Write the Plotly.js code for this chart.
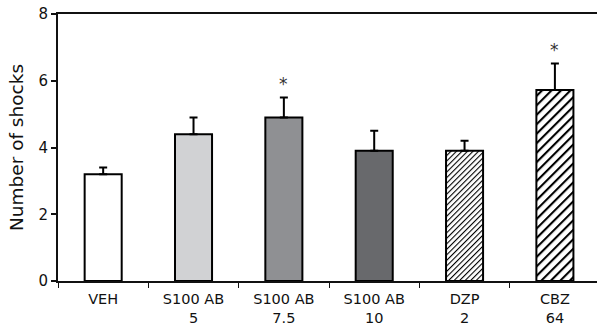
<!DOCTYPE html>
<html><head><meta charset="utf-8">
<script src="https://cdn.plot.ly/plotly-3.0.1.min.js"></script>
<style>html,body{margin:0;padding:0;background:#fff;overflow:hidden}</style>
</head><body><div id="chart" style="width:597px;height:328px"></div>
<script>
const categories = ["VEH", "S100 AB<br>5", "S100 AB<br>7.5", "S100 AB<br>10", "DZP<br>2", "CBZ<br>64"];
const values = [3.2, 4.4, 4.9, 3.9, 3.9, 5.72];
const errors = [0.2, 0.5, 0.6, 0.6, 0.3, 0.8];
const significant = [false, false, true, false, false, true];
const yTicks = [0, 2, 4, 6, 8];

const fills = ["#ffffff", "#d1d2d4", "#8f9093", "#68696c", "#ffffff", "#ffffff"];
// hatch style: spacing between diagonals and line thickness (px, perpendicular)
const hatch = [null, null, null, null, {spacing: 3.9, thick: 1.1}, {spacing: 6.7, thick: 2.1}];

const FONT = "DejaVu Sans, sans-serif";

function barTrace(idx) {
  return {
    type: "bar",
    x: idx.map(i => categories[i]),
    y: idx.map(i => values[i]),
    width: 0.41,
    marker: {color: idx.map(i => fills[i]), line: {color: "#000", width: 2}},
    error_y: {type: "data", symmetric: false, array: idx.map(i => errors[i]),
              arrayminus: idx.map(() => 0), color: "#000", thickness: 2, width: 4}
  };
}

const all = categories.map((c, i) => i);
const hatchedIdx = all.filter(i => hatch[i]);
const traces = [barTrace(all.filter(i => !hatch[i])), ...hatchedIdx.map(i => barTrace([i]))];

const annotations = all.filter(i => significant[i]).map(i => ({
  x: categories[i], y: values[i] + errors[i], text: "*", showarrow: false, yanchor: "bottom", yshift: 1,
  font: {family: FONT, size: 17, color: "#333"}
}));

const layout = {
  width: 597, height: 328,
  margin: {l: 58, r: 0, t: 14, b: 47},
  paper_bgcolor: "#fff", plot_bgcolor: "#fff",
  showlegend: false, barmode: "overlay",
  font: {family: FONT, color: "#111"},
  xaxis: {
    type: "category", categoryorder: "array", categoryarray: categories,
    range: [-0.5, 5.466], showgrid: false, zeroline: false,
    showline: true, linecolor: "#111", linewidth: 2, mirror: true,
    ticks: "outside", ticklen: 5, tickwidth: 1, tickcolor: "#111",
    tickson: "boundaries", tickfont: {size: 14.5}, ticklabelstandoff: 4,
    fixedrange: true
  },
  yaxis: {
    range: [0, 8], showgrid: false, zeroline: false,
    showline: true, linecolor: "#111", linewidth: 2,
    ticks: "outside", ticklen: 5, tickwidth: 2, tickcolor: "#111",
    tickvals: yTicks, tickfont: {size: 15},
    title: {text: "Number of shocks", font: {size: 18.5}, standoff: 10},
    fixedrange: true
  },
  annotations: annotations
};

function applyHatching() {
  const NS = "http://www.w3.org/2000/svg";
  const svg = document.querySelector("#chart svg.main-svg");
  let defs = svg.querySelector("defs");
  if (!defs) { defs = document.createElementNS(NS, "defs"); svg.insertBefore(defs, svg.firstChild); }
  const groups = document.querySelectorAll("#chart .barlayer .trace");
  hatchedIdx.forEach((ci, k) => {
    const h = hatch[ci];
    const id = "hatch" + ci;
    const p = document.createElementNS(NS, "pattern");
    p.setAttribute("id", id);
    p.setAttribute("patternUnits", "userSpaceOnUse");
    p.setAttribute("width", h.spacing);
    p.setAttribute("height", 20);
    p.setAttribute("patternTransform", "rotate(45)");
    const bg = document.createElementNS(NS, "rect");
    bg.setAttribute("width", h.spacing); bg.setAttribute("height", 20); bg.setAttribute("fill", "#fff");
    const ln = document.createElementNS(NS, "rect");
    ln.setAttribute("width", h.thick); ln.setAttribute("height", 20); ln.setAttribute("fill", "#000");
    p.appendChild(bg); p.appendChild(ln);
    defs.appendChild(p);
    const g = groups[k + 1];
    if (g) g.querySelectorAll(".point path").forEach(el => { el.style.fill = "url(#" + id + ")"; });
  });
}

Plotly.newPlot("chart", traces, layout, {staticPlot: true}).then(applyHatching);
</script></body></html>
